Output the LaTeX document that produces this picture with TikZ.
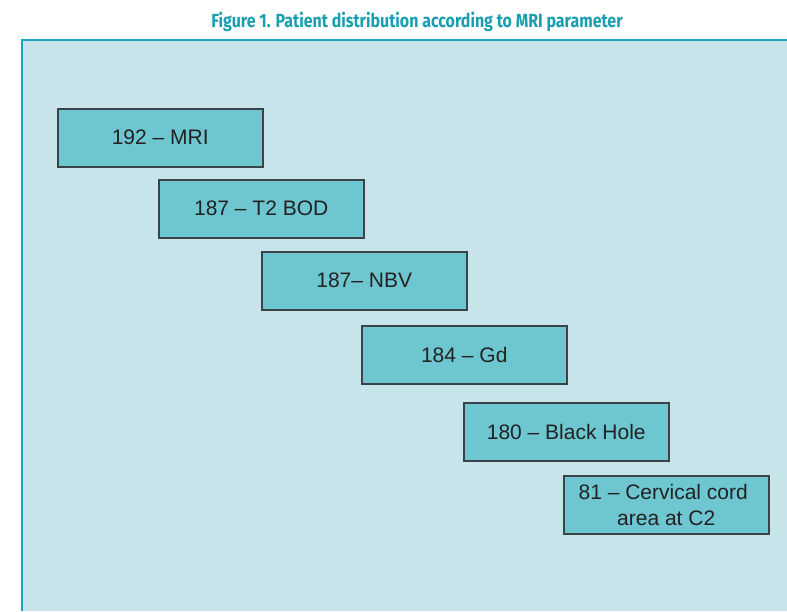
\documentclass[tikz,border=0pt]{standalone}
\usepackage{fontspec}
\setmainfont{Liberation Sans}
\newfontfamily\titlefont[FakeStretch=0.84]{Fira Sans}
\definecolor{panelbg}{HTML}{C6E4EA}
\definecolor{panelline}{HTML}{1AA6B8}
\definecolor{boxfill}{HTML}{6EC6D0}
\definecolor{boxline}{HTML}{3A4345}
\definecolor{titlecol}{HTML}{1A9FB1}
\definecolor{txt}{HTML}{222222}
\tikzset{
  stepbox/.style={draw=boxline, line width=1.5pt, fill=boxfill, minimum width=205pt, minimum height=58pt, inner sep=0pt, font=\fontsize{21}{25}\selectfont, text=txt, anchor=north west, align=center},
}
\begin{document}
\begin{tikzpicture}[x=1pt,y=-1pt]
\useasboundingbox (0,0) rectangle (787,611);
\fill[white] (0,0) rectangle (787,611);
\fill[panelbg] (22,40) rectangle (787,611);
\draw[panelline, line width=1.6pt] (22,611) -- (22,40) -- (787,40);
\node[anchor=base, text=titlecol, font=\titlefont\bfseries\fontsize{19}{21}\selectfont, inner sep=0pt] (title) at (417,27.5) {Figure 1. Patient distribution according to MRI parameter};
\node[stepbox] (mri) at (57,108) {192 -- MRI};
\node[stepbox] (t2) at (158,179) {187 -- T2 BOD};
\node[stepbox] (nbv) at (261,251) {187-- NBV};
\node[stepbox] (gd) at (361,325) {184 -- Gd};
\node[stepbox] (bh) at (463,402) {180 -- Black Hole};
\node[stepbox, font=\fontsize{21}{26}\selectfont] (cc) at (563,475) {\hspace*{-6pt}81 -- Cervical cord\\area at C2};
\end{tikzpicture}
\end{document}
